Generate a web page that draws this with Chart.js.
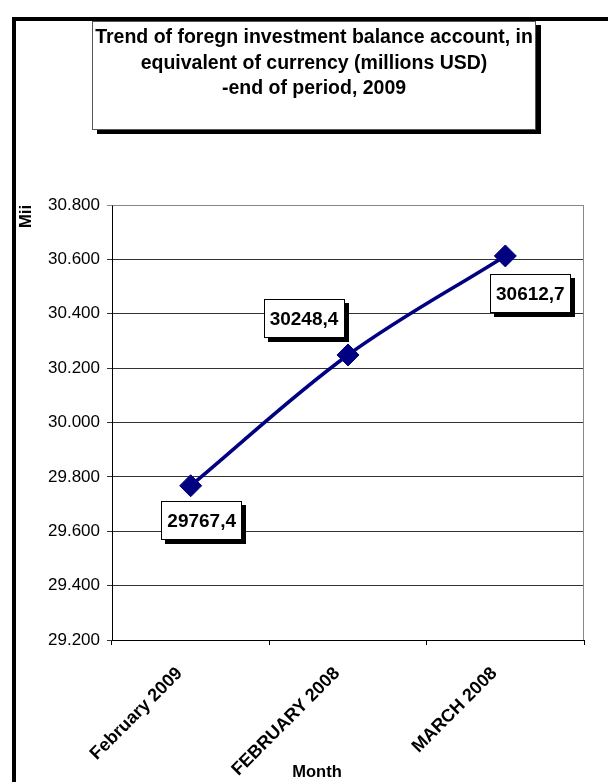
<!DOCTYPE html>
<html><head><meta charset="utf-8">
<script src="https://cdn.jsdelivr.net/npm/chart.js@4"></script>
<style>html,body{margin:0;padding:0;background:#fff}canvas{display:block}</style>
</head><body>
<canvas id="c" width="608" height="782"></canvas>
<script>
const categories = ['February 2009', 'FEBRUARY 2008', 'MARCH 2008'];
const values = [29767.4, 30248.4, 30612.7];
const yTicks = [29200, 29400, 29600, 29800, 30000, 30200, 30400, 30600, 30800];
const titleLines = ['Trend of foregn investment balance account, in', 'equivalent of currency (millions USD)', '-end of period, 2009'];
const yAxisTitle = 'Mii';
const xAxisTitle = 'Month';

const FONT = "'Liberation Sans', Arial, sans-serif";
const fmtTick = v => Math.round(v).toString().replace(/\B(?=(\d{3})+(?!\d))/g, '.');
const fmtVal = v => v.toFixed(1).replace('.', ',');
// label box offsets relative to each point (layout only)
const labelOffsets = [[11, 35], [-44, -36], [25, 38]];

const deco = {
  id: 'deco',
  beforeDraw(chart) {
    const ctx = chart.ctx;
    ctx.save();
    ctx.fillStyle = '#fff';
    ctx.fillRect(0, 0, chart.width, chart.height);
    // outer frame
    ctx.fillStyle = '#000';
    ctx.fillRect(12, 17, 4, chart.height - 17);
    ctx.fillRect(12, 17, chart.width - 12, 4);
    // title box with shadow
    ctx.fillRect(97, 25, 444, 109);
    ctx.fillStyle = '#fff';
    ctx.fillRect(92, 21, 444, 109);
    ctx.strokeStyle = '#555';
    ctx.lineWidth = 1;
    ctx.strokeRect(92.5, 21.5, 443, 108);
    ctx.fillStyle = '#000';
    ctx.font = 'bold 19.5px ' + FONT;
    ctx.textAlign = 'center';
    ctx.textBaseline = 'middle';
    titleLines.forEach((t, i) => ctx.fillText(t, 314, 38 + i * 25.5));
    ctx.restore();
  },
  beforeDatasetsDraw(chart) {
    const ctx = chart.ctx, a = chart.chartArea;
    ctx.save();
    ctx.strokeStyle = '#888';
    ctx.lineWidth = 1;
    ctx.beginPath();
    ctx.moveTo(Math.round(a.left) + 0.5, Math.round(a.top) + 0.5);
    ctx.lineTo(Math.round(a.right) - 0.5, Math.round(a.top) + 0.5);
    ctx.lineTo(Math.round(a.right) - 0.5, Math.round(a.bottom));
    ctx.stroke();
    ctx.restore();
  },
  afterDatasetsDraw(chart) {
    const ctx = chart.ctx;
    const meta = chart.getDatasetMeta(0);
    ctx.save();
    ctx.font = 'bold 19px ' + FONT;
    ctx.textAlign = 'center';
    ctx.textBaseline = 'middle';
    meta.data.forEach((pt, i) => {
      const txt = fmtVal(chart.data.datasets[0].data[i]);
      const cx = pt.x + labelOffsets[i][0], cy = pt.y + labelOffsets[i][1];
      const w = Math.round(ctx.measureText(txt).width) + 12, h = 39;
      const x = Math.round(cx - w / 2), y = Math.round(cy - h / 2);
      ctx.fillStyle = '#000';
      ctx.fillRect(x + 4, y + 4, w, h);
      ctx.fillStyle = '#fff';
      ctx.fillRect(x, y, w, h);
      ctx.strokeStyle = '#000';
      ctx.lineWidth = 1;
      ctx.strokeRect(x + 0.5, y + 0.5, w - 1, h - 1);
      ctx.fillStyle = '#000';
      ctx.fillText(txt, cx, cy + 1);
    });
    // x axis title
    ctx.font = 'bold 16.5px ' + FONT;
    ctx.fillText(xAxisTitle, 317, 772);
    ctx.restore();
  }
};

new Chart(document.getElementById('c'), {
  type: 'line',
  data: {
    labels: categories,
    datasets: [{
      data: values,
      borderColor: '#000080',
      borderWidth: 3.5,
      tension: 0.35,
      pointStyle: 'rectRot',
      pointRadius: 11,
      pointBackgroundColor: '#000080',
      pointBorderColor: '#000080',
      pointBorderWidth: 1,
      clip: false
    }]
  },
  options: {
    responsive: false,
    animation: false,
    devicePixelRatio: 1,
    layout: { padding: { left: 16, top: 205, right: 24, bottom: 0 } },
    plugins: { legend: { display: false }, tooltip: { enabled: false }, title: { display: false } },
    scales: {
      x: {
        offset: true,
        grid: { display: true, drawOnChartArea: false, drawTicks: true, tickLength: 5, color: '#000', offset: true },
        border: { display: true, color: '#000', width: 1 },
        ticks: { color: '#000', font: { family: FONT, size: 18, weight: 'bold' }, minRotation: 45, maxRotation: 45, padding: 18, labelOffset: -11, autoSkip: false },
        afterFit: s => { s.height = 142; }
      },
      y: {
        min: yTicks[0],
        max: yTicks[yTicks.length - 1],
        grid: { color: ctx => (ctx.tick && ctx.tick.value === yTicks[yTicks.length - 1]) ? '#888' : '#333', tickLength: 5, lineWidth: 1 },
        border: { display: true, color: '#000', width: 1 },
        ticks: { stepSize: yTicks[1] - yTicks[0], color: '#000', font: { family: FONT, size: 17 }, padding: 7, callback: v => fmtTick(v) },
        title: { display: true, text: yAxisTitle, align: 'end', color: '#000', font: { family: FONT, size: 16.5, weight: 'bold' }, padding: { top: 1, bottom: 0 } },
        afterFit: s => { s.width = 96; }
      }
    }
  },
  plugins: [deco]
});
</script>
</body></html>
